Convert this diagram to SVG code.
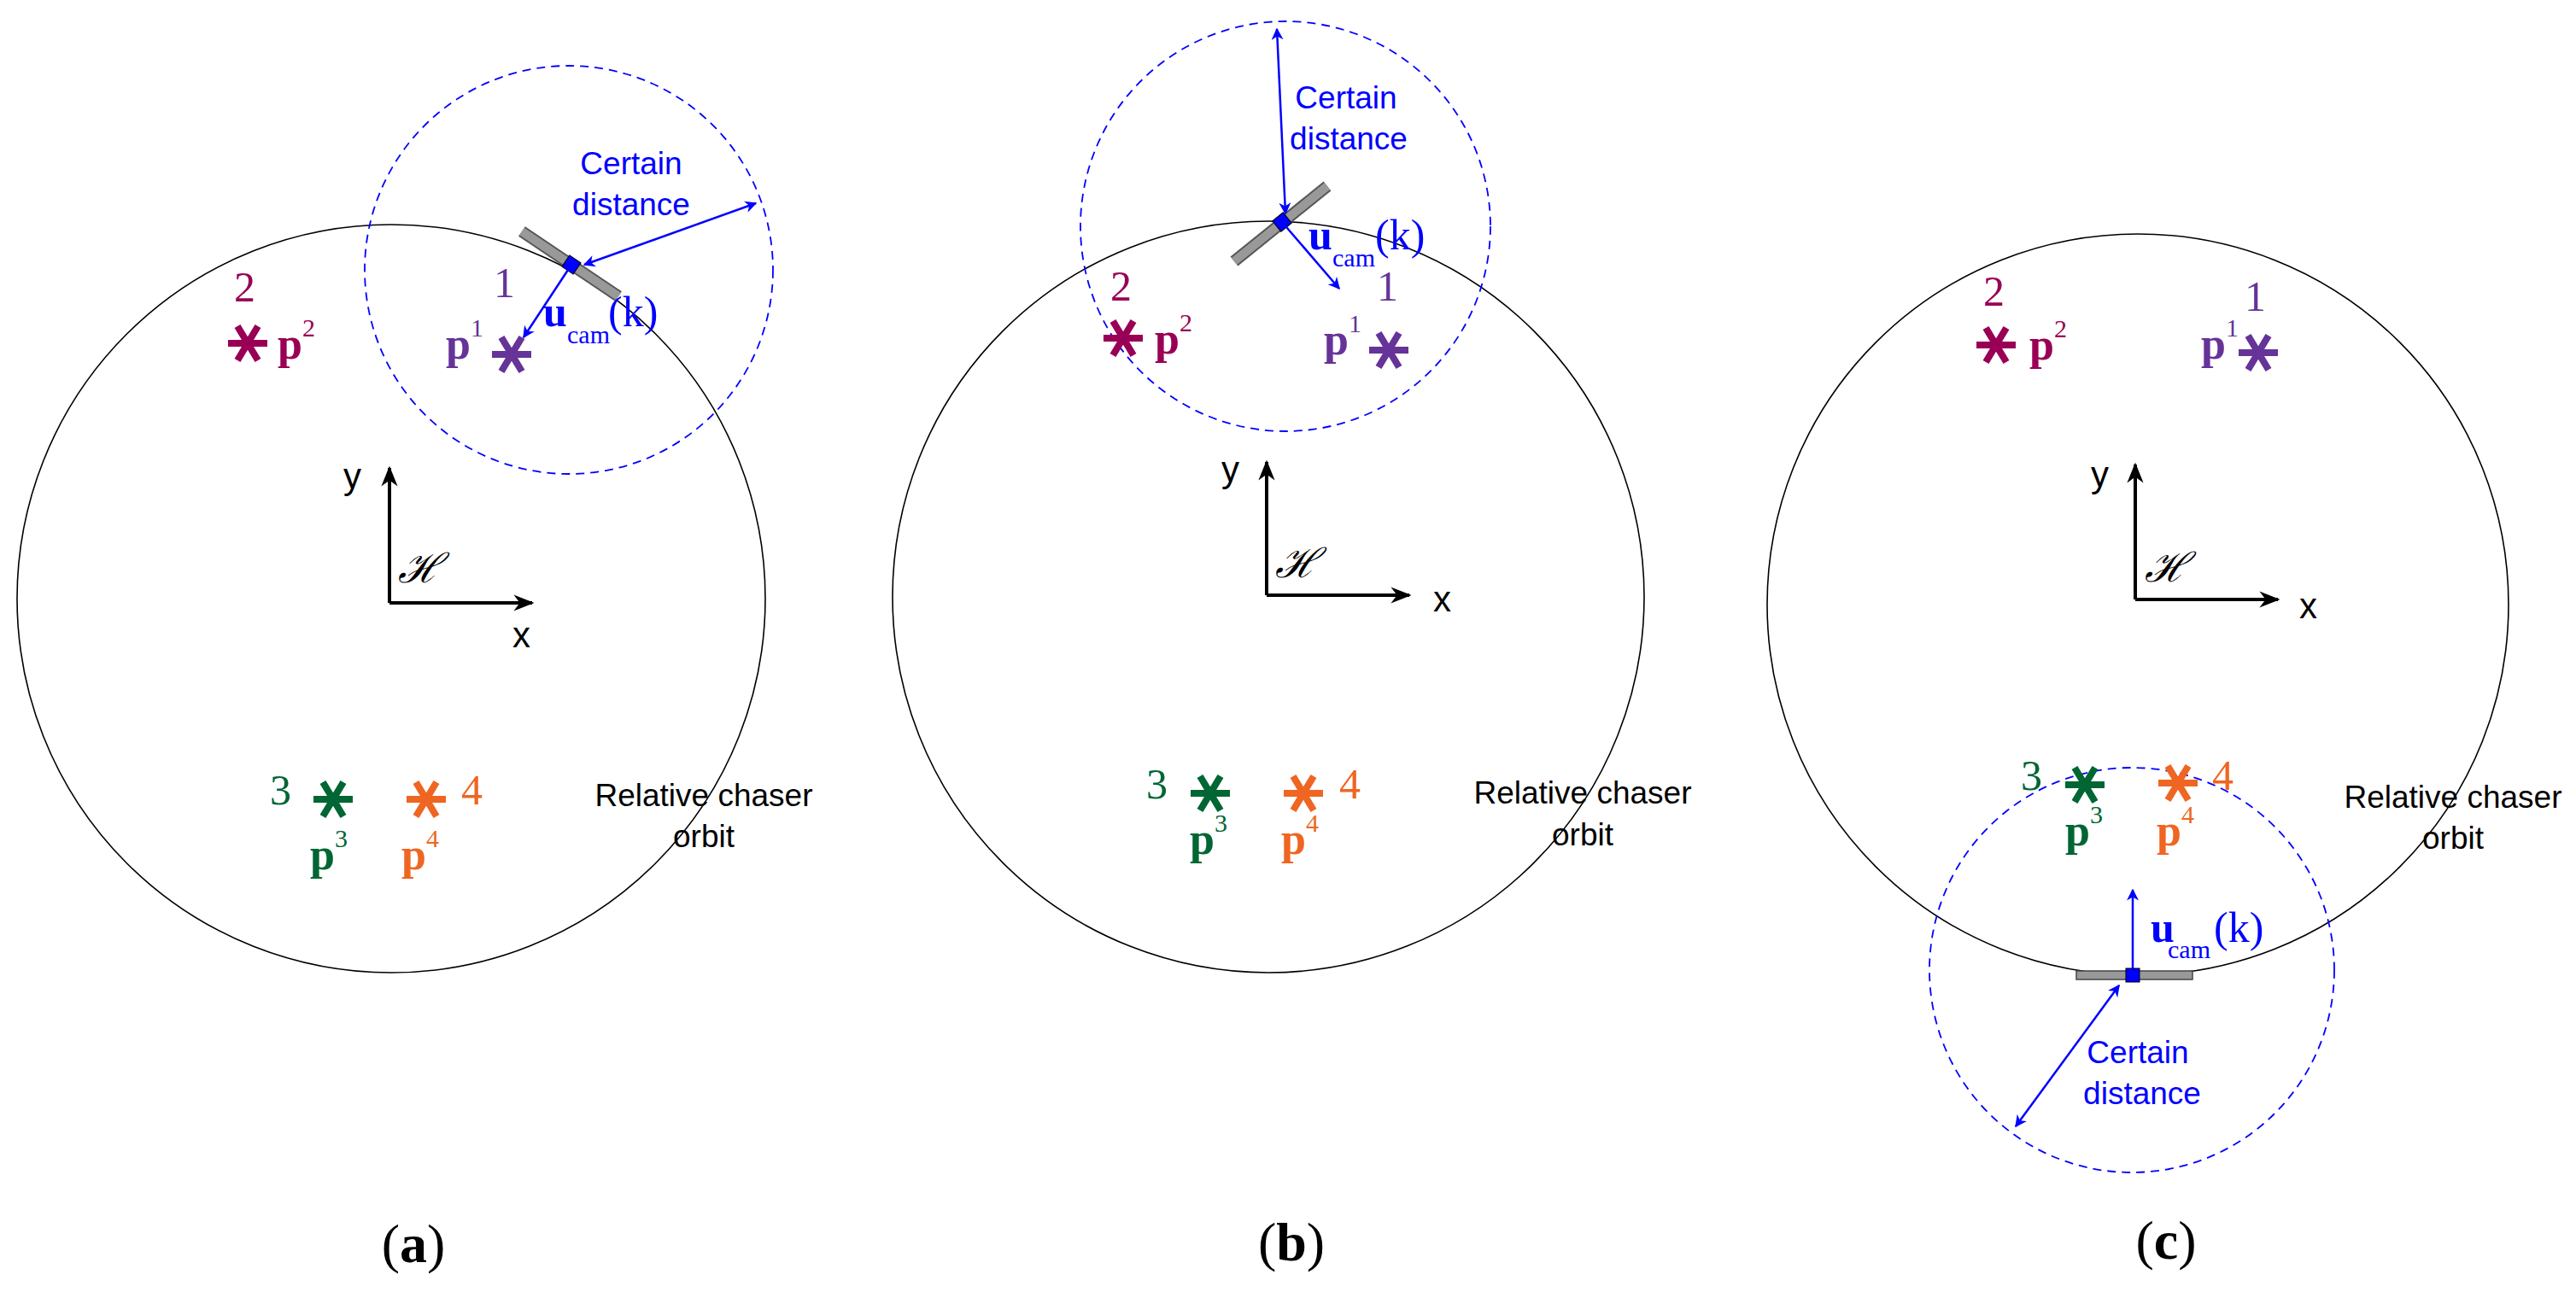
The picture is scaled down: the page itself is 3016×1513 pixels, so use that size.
<svg xmlns="http://www.w3.org/2000/svg" width="3016" height="1513" viewBox="0 0 3016 1513">
<style>
.orb{fill:none;stroke:#000;stroke-width:1.6}
.dash{fill:none;stroke:#0000ff;stroke-width:1.8;stroke-dasharray:10 7}
.ax{stroke:#000;stroke-width:4;fill:none}
.bl{stroke:#0000ff;stroke-width:2.5;fill:none}
.sans{font-family:"Liberation Sans",Arial,sans-serif;font-size:37px}
.axl{font-family:"Liberation Sans",Arial,sans-serif;font-size:42px}
.ser{font-family:"Liberation Serif","Times New Roman",serif}
.num{font-family:"Liberation Serif",serif;font-size:50px}
.pb{font-family:"Liberation Serif",serif;font-size:52px;font-weight:bold}
.sup{font-family:"Liberation Serif",serif;font-size:30px;font-weight:normal}
.c1{fill:#663399;stroke:#663399}
.c2{fill:#990055;stroke:#990055}
.c3{fill:#006633;stroke:#006633}
.c4{fill:#ee6622;stroke:#ee6622}
text{stroke:none}
.blue{fill:#0000ff}
</style>
<defs>
<marker id="ah" viewBox="0 0 10 10" refX="9" refY="5" markerWidth="14" markerHeight="14" markerUnits="userSpaceOnUse" orient="auto-start-reverse"><path d="M0,0 L10,5 L0,10 L3,5 z" fill="#0000ff"/></marker>
<marker id="ak" viewBox="0 0 10 10" refX="9" refY="5" markerWidth="24" markerHeight="24" markerUnits="userSpaceOnUse" orient="auto"><path d="M0,1 L10,5 L0,9 L3,5 z" fill="#000"/></marker>
<g id="star"><path d="M-23,0 H23 M-12,-20 L12,20 M12,-20 L-12,20" stroke-width="8" fill="none"/></g>
</defs>

<g id="panel-a">
<circle class="orb" cx="458" cy="701" r="438"/>
<circle class="dash" cx="666" cy="316" r="239"/>
<g id="axes-a"><path class="ax" d="M456,706 V548" marker-end="url(#ak)"/><path class="ax" d="M456,706 H623" marker-end="url(#ak)"/>
<text class="axl" x="402" y="572">y</text><text class="axl" x="600" y="758">x</text>
<text class="ser" x="466" y="682" font-size="48" font-style="italic">ℋ</text></g>
<g id="cam-a"><path d="M611,271 L724,347" stroke="#555" stroke-width="14"/><path d="M611,271 L724,347" stroke="#999" stroke-width="10"/>
<rect x="661" y="302" width="16" height="16" fill="#0000ff" stroke="#000" stroke-width="1" transform="rotate(34 669 310)"/></g>
<text class="sans blue" x="739" y="204" text-anchor="middle">Certain</text>
<text class="sans blue" x="739" y="252" text-anchor="middle">distance</text>
<text class="ser blue" x="636" y="382" font-size="50" font-weight="bold">u</text>
<text class="ser blue" x="664" y="402" font-size="30">cam</text>
<text class="ser blue" x="712" y="382" font-size="50">(k)</text>
<g id="pt1-a" class="c1"><use href="#star" x="599" y="415"/><text class="num" x="578" y="348">1</text><text class="pb" x="522" y="420">p<tspan class="sup" dy="-26">1</tspan></text></g>
<g id="pt2-a" class="c2"><use href="#star" x="290" y="402"/><text class="num" x="274" y="353">2</text><text class="pb" x="325" y="420">p<tspan class="sup" dy="-26">2</tspan></text></g>
<g id="pt3-a" class="c3"><use href="#star" x="390" y="936"/><text class="num" x="316" y="942">3</text><text class="pb" x="363" y="1018">p<tspan class="sup" dy="-26">3</tspan></text></g>
<g id="pt4-a" class="c4"><use href="#star" x="499" y="936"/><text class="num" x="540" y="942">4</text><text class="pb" x="470" y="1018">p<tspan class="sup" dy="-26">4</tspan></text></g>
<text class="sans" x="824" y="944" text-anchor="middle">Relative chaser</text>
<text class="sans" x="824" y="992" text-anchor="middle">orbit</text>
<text class="ser" x="484" y="1478" font-size="64" text-anchor="middle">(<tspan font-weight="bold">a</tspan>)</text>
</g>

<g id="panel-b">
<circle class="orb" cx="1485" cy="699" r="440"/>
<circle class="dash" cx="1505" cy="265" r="240"/>
<g id="axes-b"><path class="ax" d="M1483,697 V541" marker-end="url(#ak)"/><path class="ax" d="M1483,697 H1650" marker-end="url(#ak)"/>
<text class="axl" x="1430" y="564">y</text><text class="axl" x="1678" y="716">x</text>
<text class="ser" x="1493" y="676" font-size="48" font-style="italic">ℋ</text></g>
<g id="cam-b"><path d="M1445,306 L1554,218" stroke="#555" stroke-width="14"/><path d="M1445,306 L1554,218" stroke="#999" stroke-width="10"/>
<rect x="1493" y="252" width="16" height="16" fill="#0000ff" stroke="#000" stroke-width="1" transform="rotate(-39 1501 260)"/></g>
<text class="sans blue" x="1576" y="127" text-anchor="middle">Certain</text>
<text class="sans blue" x="1579" y="175" text-anchor="middle">distance</text>
<text class="ser blue" x="1532" y="292" font-size="50" font-weight="bold">u</text>
<text class="ser blue" x="1560" y="312" font-size="30">cam</text>
<text class="ser blue" x="1610" y="292" font-size="50">(k)</text>
<g id="pt1-b" class="c1"><use href="#star" x="1626" y="410"/><text class="num" x="1612" y="352">1</text><text class="pb" x="1550" y="415">p<tspan class="sup" dy="-26">1</tspan></text></g>
<g id="pt2-b" class="c2"><use href="#star" x="1315" y="396"/><text class="num" x="1300" y="352">2</text><text class="pb" x="1352" y="414">p<tspan class="sup" dy="-26">2</tspan></text></g>
<g id="pt3-b" class="c3"><use href="#star" x="1417" y="929"/><text class="num" x="1342" y="935">3</text><text class="pb" x="1393" y="1000">p<tspan class="sup" dy="-26">3</tspan></text></g>
<g id="pt4-b" class="c4"><use href="#star" x="1526" y="929"/><text class="num" x="1568" y="935">4</text><text class="pb" x="1500" y="1000">p<tspan class="sup" dy="-26">4</tspan></text></g>
<text class="sans" x="1853" y="941" text-anchor="middle">Relative chaser</text>
<text class="sans" x="1853" y="990" text-anchor="middle">orbit</text>
<text class="ser" x="1512" y="1476" font-size="64" text-anchor="middle">(<tspan font-weight="bold">b</tspan>)</text>
</g>

<g id="panel-c">
<circle class="orb" cx="2503" cy="708" r="434"/>
<circle class="dash" cx="2496" cy="1136" r="237"/>
<g id="axes-c"><path class="ax" d="M2500,702 V544" marker-end="url(#ak)"/><path class="ax" d="M2500,702 H2667" marker-end="url(#ak)"/>
<text class="axl" x="2448" y="570">y</text><text class="axl" x="2692" y="724">x</text>
<text class="ser" x="2511" y="681" font-size="48" font-style="italic">ℋ</text></g>
<g id="cam-c"><rect x="2431" y="1137" width="136" height="10" fill="#999" stroke="#444" stroke-width="1.5"/>
<rect x="2489" y="1134" width="16" height="16" fill="#0000ff" stroke="#000" stroke-width="1"/></g>
<text class="sans blue" x="2503" y="1245" text-anchor="middle">Certain</text>
<text class="sans blue" x="2508" y="1293" text-anchor="middle">distance</text>
<text class="ser blue" x="2518" y="1103" font-size="50" font-weight="bold">u</text>
<text class="ser blue" x="2538" y="1122" font-size="30">cam</text>
<text class="ser blue" x="2592" y="1103" font-size="50">(k)</text>
<g id="pt1-c" class="c1"><use href="#star" x="2644" y="413"/><text class="num" x="2628" y="364">1</text><text class="pb" x="2577" y="420">p<tspan class="sup" dy="-26">1</tspan></text></g>
<g id="pt2-c" class="c2"><use href="#star" x="2337" y="404"/><text class="num" x="2322" y="358">2</text><text class="pb" x="2376" y="421">p<tspan class="sup" dy="-26">2</tspan></text></g>
<g id="pt3-c" class="c3"><use href="#star" x="2441" y="919"/><text class="num" x="2366" y="925">3</text><text class="pb" x="2418" y="990">p<tspan class="sup" dy="-26">3</tspan></text></g>
<g id="pt4-c" class="c4"><use href="#star" x="2550" y="917"/><text class="num" x="2590" y="925">4</text><text class="pb" x="2525" y="990">p<tspan class="sup" dy="-26">4</tspan></text></g>
<text class="sans" x="2872" y="946" text-anchor="middle">Relative chaser</text>
<text class="sans" x="2872" y="994" text-anchor="middle">orbit</text>
<text class="ser" x="2536" y="1474" font-size="64" text-anchor="middle">(<tspan font-weight="bold">c</tspan>)</text>
</g>

<g id="connectors">
<path class="bl" d="M669,310 L613,395" marker-end="url(#ah)"/>
<path class="bl" d="M684,310 L885,238" marker-start="url(#ah)" marker-end="url(#ah)"/>
<path class="bl" d="M1501,260 L1568,338" marker-end="url(#ah)"/>
<path class="bl" d="M1495,34 L1505,250" marker-start="url(#ah)" marker-end="url(#ah)"/>
<path class="bl" d="M2497,1134 L2497,1042" marker-end="url(#ah)"/>
<path class="bl" d="M2481,1154 L2360,1319" marker-start="url(#ah)" marker-end="url(#ah)"/>
</g>
</svg>
